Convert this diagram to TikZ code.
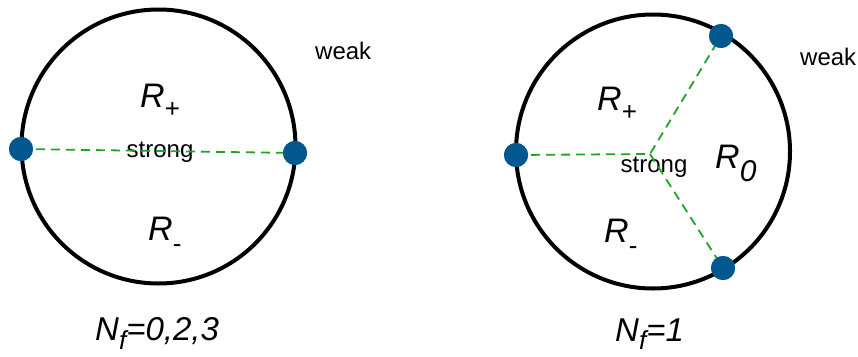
\documentclass[tikz,border=0pt]{standalone}
\usepackage{fontspec}
\setmainfont{Liberation Sans}
\definecolor{dotblue}{RGB}{0,88,142}
\definecolor{linkgreen}{RGB}{30,165,40}
% region label R with a lowered subscript
\newcommand\regsub[2][11pt]{\textit{R}\raisebox{-#1}{\fontsize{26}{26}\selectfont #2}}
\begin{document}
\begin{tikzpicture}[x=1pt,y=-1pt,
  ring/.style={circle,draw=black,line width=4pt,inner sep=0pt,minimum size=274pt},
  pole/.style={circle,fill=dotblue,inner sep=0pt,minimum size=24pt},
  link/.style={draw=linkgreen,line width=1.8pt,dash pattern=on 9pt off 6pt},
  small/.style={font=\fontsize{24}{28}\selectfont,inner sep=0pt},
  region/.style={font=\fontsize{34}{40}\selectfont,inner sep=0pt,anchor=base west},
  caption/.style={font=\fontsize{33}{40}\selectfont\itshape,inner sep=0pt,anchor=base west}]
\useasboundingbox (0,0) rectangle (858,356);

% ---- left diagram: two poles ----
\node[ring] (c1) at (158.5,146.5) {};
\node[small,anchor=base west] (w1) at (315,59) {weak};
\node[region] (rp1) at (140,107) {\regsub[10pt]{+}};
\node[region] (rm1) at (148,240) {\regsub[12pt]{-}};
\node[small,anchor=base] (s1) at (160,157) {strong};
\node[caption] (n1) at (95,340) {N\raisebox{-9pt}{\fontsize{26}{26}\selectfont f}=0,2,3};
\node[pole] (a1) at (21,149) {};
\node[pole] (b1) at (295,153) {};
\draw[link] (a1.center) -- (b1.center);
\node[pole] at (a1) {};
\node[pole] at (b1) {};

% ---- right diagram: three poles ----
\node[ring] (c2) at (653,151.5) {};
\node[small,anchor=base west] (w2) at (800,65) {weak};
\node[region] (rp2) at (597,110) {\regsub[10pt]{+}};
\node[region] (rm2) at (604,242) {\regsub[12pt]{-}};
\node[region] (r02) at (715,168) {\textit{R}\raisebox{-13pt}{\fontsize{30}{30}\selectfont\itshape 0}};
\node[small,anchor=base] (s2) at (654,172) {strong};
\node[caption] (n2) at (615,341) {N\raisebox{-8pt}{\fontsize{26}{26}\selectfont f}=1};
\coordinate (j2) at (650,154);
\node[pole] (a2) at (516,155) {};
\node[pole] (t2) at (721,36) {};
\node[pole] (b2) at (723,268) {};
\draw[link] (a2.center) -- (j2) -- (t2.center);
\draw[link] (j2) -- (b2.center);
\node[pole] at (a2) {};
\node[pole] at (t2) {};
\node[pole] at (b2) {};
\end{tikzpicture}
\end{document}
